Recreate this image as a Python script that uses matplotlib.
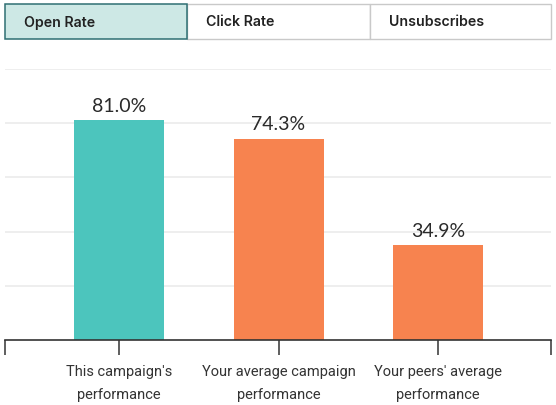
import matplotlib
matplotlib.use('Agg')
import matplotlib.pyplot as plt
from matplotlib.patches import Rectangle

categories = ["This campaign's\nperformance", "Your average campaign\nperformance", "Your peers' average\nperformance"]
values = [81.0, 74.3, 34.9]
bar_colors = ['#4cc5bd', '#f7834f', '#f7834f']
tabs = ['Open Rate', 'Click Rate', 'Unsubscribes']

W, H = 556, 406
fig = plt.figure(figsize=(W / 100, H / 100), dpi=100)
fig.patch.set_facecolor('white')

# axes placed in pixel terms: left 5, right 551, baseline at 341, 100% at ~70
ax = fig.add_axes([5 / W, (H - 341) / H, 546 / W, 271 / H])
x = list(range(len(values)))
ax.bar(x, values, width=0.564, color=bar_colors, zorder=2)
ax.set_xlim(-0.715, 2.708)
ax.set_ylim(0, 100)
ax.set_yticks([20, 40, 60, 80, 100])
ax.yaxis.grid(True, color='#ebebeb', linewidth=1.2, zorder=0)
ax.tick_params(axis='y', left=False, labelleft=False)
for s in ['top', 'right', 'left']:
    ax.spines[s].set_visible(False)
ax.spines['bottom'].set_color('#333333')
ax.spines['bottom'].set_linewidth(1.2)

ax.set_xticks(x)
ax.set_xticklabels(categories, fontsize=10.5, color='#333333', linespacing=1.88,
                   family=['Roboto', 'DejaVu Sans'])
ax.set_xticks([-0.715, 2.708], minor=True)
ax.tick_params(axis='x', which='both', length=11, width=1.1, color='#333333', pad=6)

for xi, v in zip(x, values):
    ax.annotate(f'{v:.1f}%', (xi, v), xytext=(0, 7), textcoords='offset points',
                ha='center', va='baseline', fontsize=14, color='#2a2a2a',
                family=['Lato', 'DejaVu Sans'])

# tab bar across the top
def px_rect(x0, y0, x1, y1, **kw):
    r = Rectangle((x0 / W, 1 - y1 / H), (x1 - x0) / W, (y1 - y0) / H,
                  transform=fig.transFigure, **kw)
    fig.add_artist(r)

edges = [5.3, 187.3, 369.5, 551.4]
for i, name in enumerate(tabs):
    if i > 0:
        px_rect(edges[i], 5, edges[i + 1], 40, facecolor='white', edgecolor='#c9c9c9', linewidth=1)
for i, name in enumerate(tabs):
    if i == 0:
        px_rect(edges[i], 5, edges[i + 1], 40, facecolor='#cde8e5', edgecolor='#2f6f73', linewidth=1.1)
    fig.text((edges[i] + 19) / W, 1 - 22.5 / H, name, ha='left', va='center',
             fontsize=10.2, color='#222222', fontweight='semibold',
             family=['Inter', 'DejaVu Sans'])

fig.savefig('out.png', dpi=100, facecolor='white')
